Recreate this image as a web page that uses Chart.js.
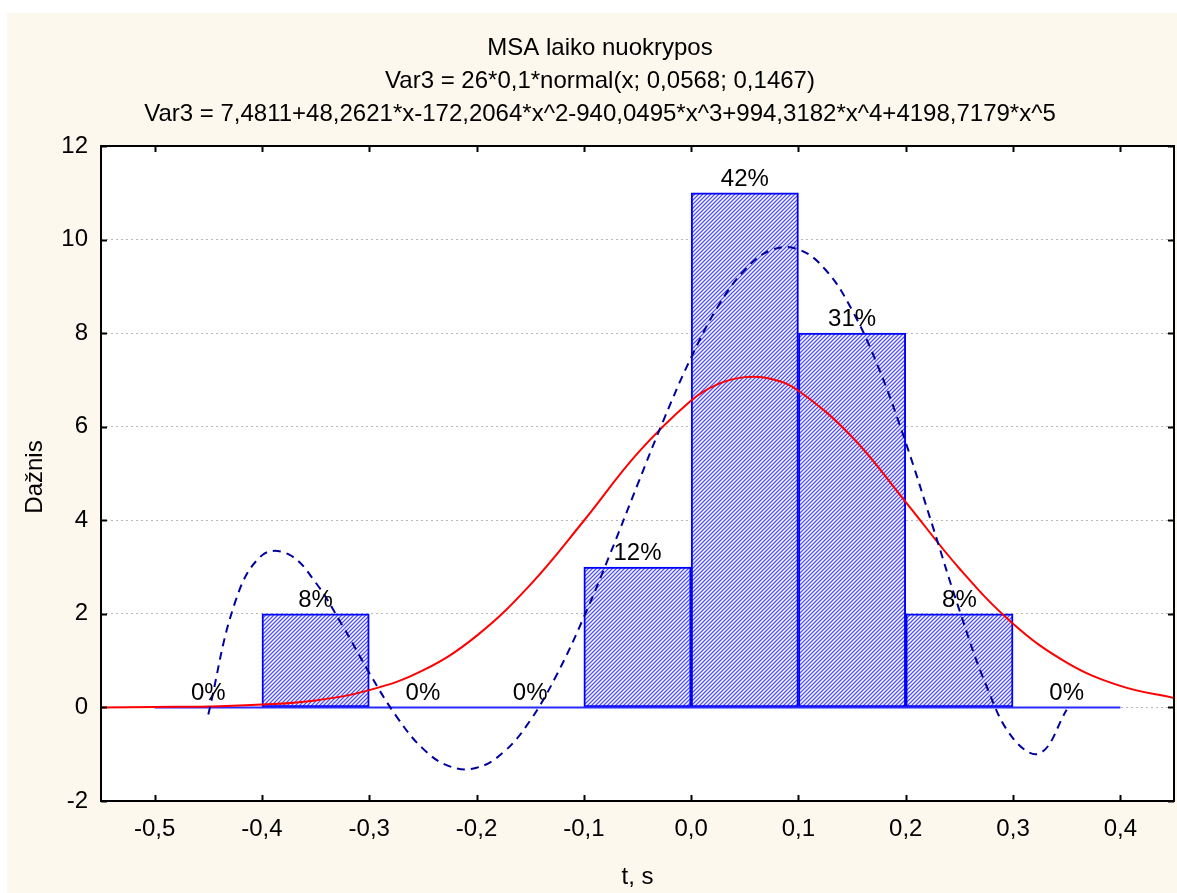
<!DOCTYPE html>
<html>
<head>
<meta charset="utf-8">
<script src="https://cdn.jsdelivr.net/npm/chart.js@4.4.1/dist/chart.umd.min.js"></script>
<style>
  html, body { margin: 0; padding: 0; background: #fff; }
  canvas { display: block; }
</style>
</head>
<body>
<canvas id="histo" width="1177" height="893"></canvas>
<script>
const FONT = '"Liberation Sans", Arial, sans-serif';

// texts
const titleLines = [
  'MSA laiko nuokrypos',
  'Var3 = 26*0,1*normal(x; 0,0568; 0,1467)',
  'Var3 = 7,4811+48,2621*x-172,2064*x^2-940,0495*x^3+994,3182*x^4+4198,7179*x^5'
];
const xTitle = 't, s';
const yTitle = 'Dažnis';

// histogram bins
const binCenters = [-0.45, -0.35, -0.25, -0.15, -0.05, 0.05, 0.15, 0.25, 0.35];
const binCounts  = [0, 2, 0, 0, 3, 11, 8, 2, 0];
const binPercents = ['0%', '8%', '0%', '0%', '12%', '42%', '31%', '8%', '0%'];
const baseX = [-0.5, 0.4];
const baseY = [0, 0];

// ticks
const xTicks = [-0.5, -0.4, -0.3, -0.2, -0.1, 0.0, 0.1, 0.2, 0.3, 0.4];
const yTicks = [-2, 0, 2, 4, 6, 8, 10, 12];

// fitted normal curve (red)
const normX = [-0.55, -0.5, -0.45, -0.4, -0.35, -0.3, -0.25, -0.2, -0.15, -0.1, -0.05, 0, 0.025, 0.05, 0.075, 0.1, 0.15, 0.2, 0.25, 0.3, 0.35, 0.4, 0.45];
const normY = [0.00, 0.01, 0.02, 0.06, 0.15, 0.37, 0.79, 1.53, 2.62, 3.99, 5.43, 6.56, 6.91, 7.06, 7.02, 6.77, 5.78, 4.39, 2.97, 1.79, 0.96, 0.46, 0.20];

// polynomial fit (blue dashed)
const polyX = [-0.45, -0.425, -0.4, -0.375, -0.35, -0.325, -0.3, -0.275, -0.25, -0.225, -0.2, -0.175, -0.15, -0.125, -0.1, -0.075, -0.05, -0.025,
  0, 0.025, 0.05, 0.075, 0.1, 0.125, 0.15, 0.175, 0.2, 0.225, 0.25, 0.275, 0.3, 0.325, 0.35];
const polyY = [-0.15, 2.25, 3.25, 3.27, 2.67, 1.75, 0.74, -0.18, -0.88, -1.26, -1.29, -0.96, -0.28, 0.71, 1.93, 3.31, 4.76, 6.18,
  7.48, 8.57, 9.35, 9.78, 9.79, 9.36, 8.49, 7.24, 5.66, 3.88, 2.08, 0.47, -0.66, -0.98, -0.05];

const pts = (xs, ys) => xs.map((x, i) => ({ x, y: ys[i] }));
const fmtX = v => (Math.abs(v) < 1e-9 ? 0 : v).toFixed(1).replace('.', ',');

// hatch fill  ////
function hatch() {
  const c = document.createElement('canvas');
  c.width = 4; c.height = 4;
  const g = c.getContext('2d');
  const img = g.createImageData(4, 4);
  const cols = [[78, 78, 255], [182, 182, 255], [248, 248, 255], [182, 182, 255]];
  for (let y = 0; y < 4; y++) for (let x = 0; x < 4; x++) {
    const k = (x + y) % 4, o = (y * 4 + x) * 4;
    img.data[o] = cols[k][0]; img.data[o + 1] = cols[k][1]; img.data[o + 2] = cols[k][2]; img.data[o + 3] = 255;
  }
  g.putImageData(img, 0, 0);
  return document.getElementById('histo').getContext('2d').createPattern(c, 'repeat');
}

const backdrop = {
  id: 'backdrop',
  beforeDraw(chart) {
    const { ctx, width, height, chartArea: a } = chart;
    ctx.save();
    ctx.fillStyle = '#ffffff';
    ctx.fillRect(0, 0, width, height);
    ctx.fillStyle = '#fdf8ee';
    ctx.fillRect(7, 13, width - 7, height - 13);
    ctx.fillStyle = '#ffffff';
    ctx.fillRect(a.left, a.top, a.right - a.left, a.bottom - a.top);
    ctx.restore();
  }
};

const decor = {
  id: 'decor',
  afterDatasetsDraw(chart) {
    const { ctx, chartArea: a } = chart;
    const xs = chart.scales.x, ys = chart.scales.y;
    ctx.save();
    ctx.fillStyle = '#000';
    ctx.font = '24px ' + FONT;
    ctx.textAlign = 'center';
    ctx.textBaseline = 'alphabetic';
    binCenters.forEach((c, i) => {
      ctx.fillText(binPercents[i], xs.getPixelForValue(c), ys.getPixelForValue(binCounts[i]) - 7);
    });

    // frame + inward ticks
    ctx.strokeStyle = '#000';
    ctx.lineWidth = 2;
    ctx.strokeRect(a.left, a.top, a.right - a.left, a.bottom - a.top);
    ctx.beginPath();
    xTicks.forEach(v => {
      const p = Math.round(xs.getPixelForValue(v)) + 0.5;
      ctx.moveTo(p, a.bottom); ctx.lineTo(p, a.bottom - 6);
      ctx.moveTo(p, a.top); ctx.lineTo(p, a.top + 6);
    });
    yTicks.forEach(v => {
      const p = Math.round(ys.getPixelForValue(v)) + 0.5;
      ctx.moveTo(a.left, p); ctx.lineTo(a.left + 6, p);
      ctx.moveTo(a.right, p); ctx.lineTo(a.right - 6, p);
    });
    ctx.stroke();

    // titles
    titleLines.forEach((t, i) => ctx.fillText(t, 600, 55 + i * 33));
    ctx.fillText(xTitle, (a.left + a.right) / 2, 884);
    ctx.translate(42, 477);
    ctx.rotate(-Math.PI / 2);
    ctx.fillText(yTitle, 0, 0);
    ctx.restore();
  }
};

new Chart(document.getElementById('histo'), {
  type: 'bar',
  data: {
    datasets: [
      {
        type: 'bar',
        data: pts(binCenters, binCounts),
        backgroundColor: hatch(),
        borderColor: '#0000ff',
        borderWidth: 2,
        borderSkipped: false,
        barPercentage: 1,
        categoryPercentage: 1,
        grouped: false,
        order: 4
      },
      {
        type: 'line',
        data: pts(baseX, baseY),
        borderColor: '#2a2aff',
        borderWidth: 2,
        pointRadius: 0,
        order: 3
      },
      {
        type: 'line',
        data: pts(normX, normY),
        borderColor: '#ff0000',
        borderWidth: 2,
        pointRadius: 0,
        tension: 0.4,
        order: 2
      },
      {
        type: 'line',
        data: pts(polyX, polyY),
        borderColor: '#00009c',
        borderWidth: 2,
        borderDash: [8, 6],
        pointRadius: 0,
        tension: 0.4,
        order: 1
      }
    ]
  },
  options: {
    responsive: false,
    animation: false,
    devicePixelRatio: 1,
    layout: { padding: { left: 0, top: 146, right: 3, bottom: 0 } },
    plugins: { legend: { display: false }, tooltip: { enabled: false }, title: { display: false } },
    scales: {
      x: {
        type: 'linear',
        min: -0.55,
        max: 0.45,
        offset: false,
        afterBuildTicks: s => { s.ticks = xTicks.map(v => ({ value: v })); },
        afterFit: s => { s.height = 92; },
        ticks: { callback: v => fmtX(v), color: '#000', font: { family: FONT, size: 24 }, padding: 14, maxRotation: 0, autoSkip: false },
        grid: { display: false, drawTicks: false },
        border: { display: false }
      },
      y: {
        min: -2,
        max: 12,
        afterBuildTicks: s => { s.ticks = yTicks.map(v => ({ value: v })); },
        afterFit: s => { s.width = 101; },
        ticks: { color: '#000', font: { family: FONT, size: 24 }, padding: 13 },
        grid: { color: '#b8b8b8', lineWidth: 1, drawTicks: false },
        border: { display: false, dash: [2, 3] }
      }
    }
  },
  plugins: [backdrop, decor]
});
</script>
</body>
</html>
